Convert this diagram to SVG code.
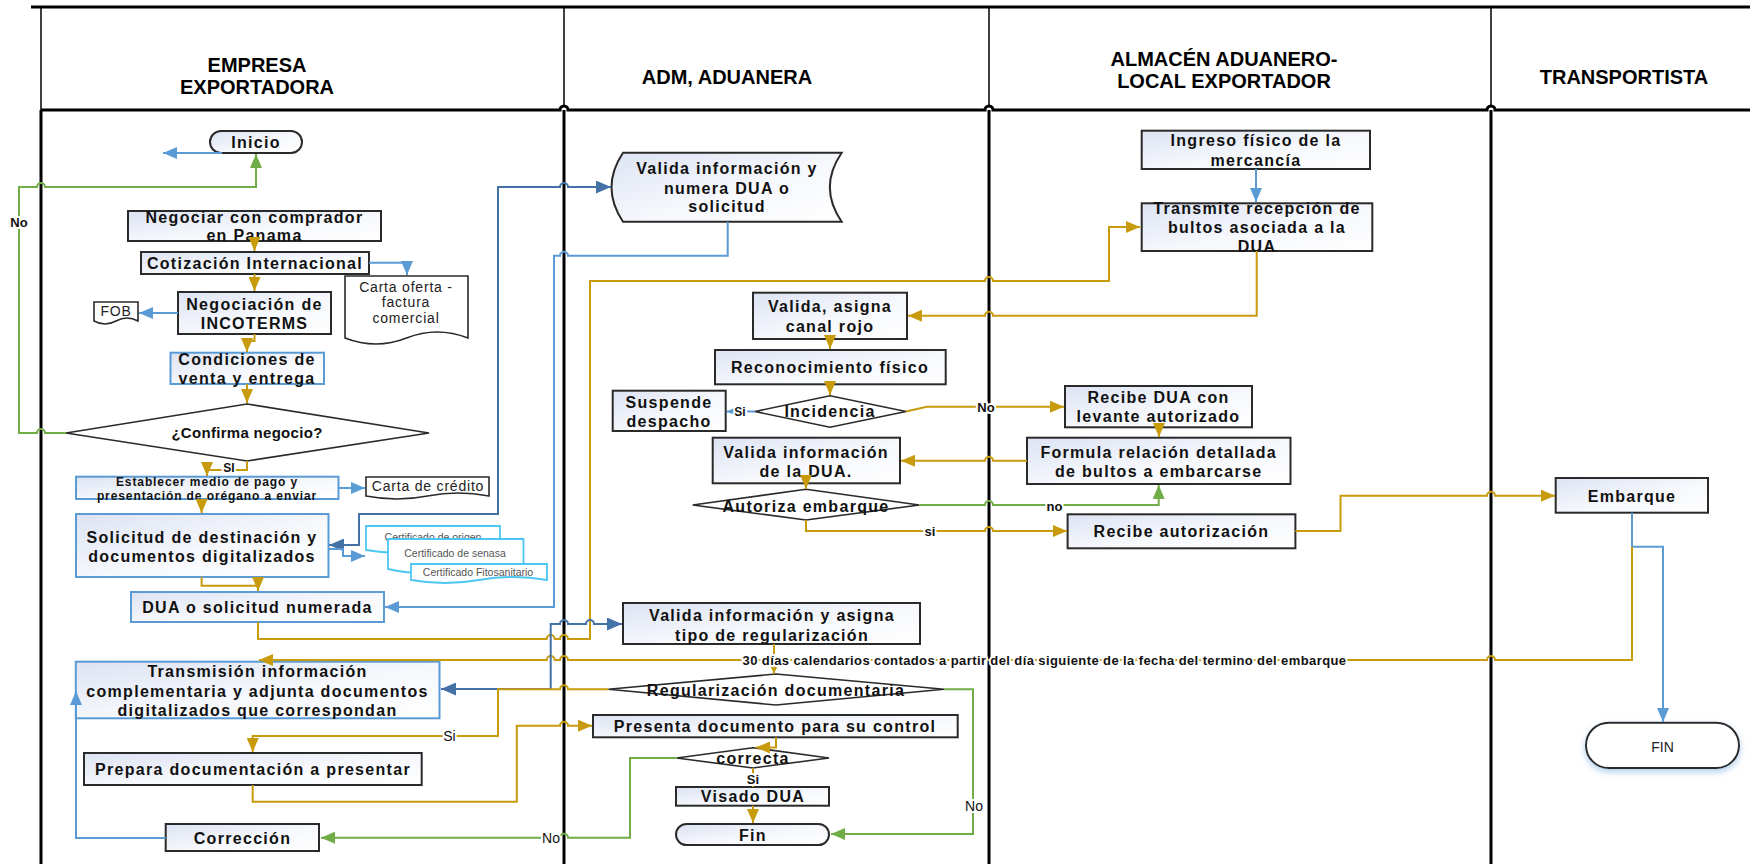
<svg xmlns="http://www.w3.org/2000/svg" width="1750" height="864" viewBox="0 0 1750 864">
<style>
.hd{font-family:"Liberation Sans",Arial,sans-serif;font-weight:bold;font-size:20px;fill:#000;text-anchor:middle}
.t{font-family:"Liberation Sans",Arial,sans-serif;font-weight:bold;font-size:16px;letter-spacing:1.3px;fill:#111;text-anchor:middle}
.ts{font-family:"Liberation Sans",Arial,sans-serif;font-weight:bold;font-size:12px;letter-spacing:0.9px;fill:#111;text-anchor:middle}
.td{font-family:"Liberation Sans",Arial,sans-serif;font-size:14px;letter-spacing:0.8px;fill:#222;text-anchor:middle}
.tc{font-family:"Liberation Sans",Arial,sans-serif;font-size:10.5px;fill:#555;text-anchor:middle}
.bk{fill:url(#gf);stroke:#2a2a2a;stroke-width:2}
.bl{fill:url(#gf);stroke:#5b9bd5;stroke-width:2}
.dm{fill:#fff;stroke:#2a2a2a;stroke-width:1.6}
.doc{fill:#fff;stroke:#2a2a2a;stroke-width:1.6}
.cert{fill:#fff;stroke:#4cc6f2;stroke-width:1.8}
.c{fill:none;stroke-width:2;stroke-linejoin:miter}
.g{stroke:#c89b0c}
.b{stroke:#5b9bd5}
.d{stroke:#4471a6}
.v{stroke:#70ad47}
.lb{font-family:"Liberation Sans",Arial,sans-serif;font-weight:bold;font-size:13px;fill:#111;text-anchor:middle;paint-order:stroke;stroke:#fff;stroke-width:4px;stroke-linejoin:round}
.lr{font-family:"Liberation Sans",Arial,sans-serif;font-size:14px;fill:#111;text-anchor:middle;paint-order:stroke;stroke:#fff;stroke-width:4px;stroke-linejoin:round}
</style>
<defs>
<linearGradient id="gf" x1="0" y1="0" x2="1" y2="1">
<stop offset="0" stop-color="#dde3f3"/>
<stop offset="0.55" stop-color="#f6f8fc"/>
<stop offset="1" stop-color="#ffffff"/>
</linearGradient>
<filter id="sh" x="-20%" y="-20%" width="140%" height="160%">
<feDropShadow dx="0" dy="3" stdDeviation="3" flood-color="#9dc3e6" flood-opacity="0.8"/>
</filter>
<marker id="aG" viewBox="0 0 10 10" refX="10" refY="5" markerWidth="14" markerHeight="12" markerUnits="userSpaceOnUse" orient="auto" preserveAspectRatio="none"><path d="M0,0 L10,5 L0,10 Z" fill="#c89b0c"/></marker>
<marker id="aGs" viewBox="0 0 10 10" refX="10" refY="5" markerWidth="7" markerHeight="7" markerUnits="userSpaceOnUse" orient="auto" preserveAspectRatio="none"><path d="M0,0 L10,5 L0,10 Z" fill="#c89b0c"/></marker>
<marker id="aB" viewBox="0 0 10 10" refX="10" refY="5" markerWidth="14" markerHeight="12" markerUnits="userSpaceOnUse" orient="auto" preserveAspectRatio="none"><path d="M0,0 L10,5 L0,10 Z" fill="#5b9bd5"/></marker>
<marker id="aBs" viewBox="0 0 10 10" refX="10" refY="5" markerWidth="7" markerHeight="7" markerUnits="userSpaceOnUse" orient="auto" preserveAspectRatio="none"><path d="M0,0 L10,5 L0,10 Z" fill="#5b9bd5"/></marker>
<marker id="aD" viewBox="0 0 10 10" refX="10" refY="5" markerWidth="15" markerHeight="13" markerUnits="userSpaceOnUse" orient="auto-start-reverse" preserveAspectRatio="none"><path d="M0,0 L10,5 L0,10 Z" fill="#4471a6"/></marker>
<marker id="aV" viewBox="0 0 10 10" refX="10" refY="5" markerWidth="14" markerHeight="12" markerUnits="userSpaceOnUse" orient="auto" preserveAspectRatio="none"><path d="M0,0 L10,5 L0,10 Z" fill="#70ad47"/></marker>
</defs>
<rect width="1750" height="864" fill="#fff"/>

<g id="lanes" fill="none" stroke="#000">
<line x1="31" y1="7" x2="1750" y2="7" stroke-width="3"/>
<path d="M41,110 H560 A4 4 0 0 1 568,110 H985 A4 4 0 0 1 993,110 H1487 A4 4 0 0 1 1495,110 H1750" stroke-width="3"/>
<path d="M41,7 V110 M564,7 V106 M989,7 V106 M1491,7 V106" stroke-width="1.5"/>
<path d="M41,110 V864 M564,110 V864 M989,110 V864 M1491,110 V864" stroke-width="3"/>
</g>
<g id="headers">
<text class="hd" x="257" y="72">EMPRESA</text>
<text class="hd" x="257" y="94">EXPORTADORA</text>
<text class="hd" x="727" y="84">ADM, ADUANERA</text>
<text class="hd" x="1224" y="66">ALMACÉN ADUANERO-</text>
<text class="hd" x="1224" y="88">LOCAL EXPORTADOR</text>
<text class="hd" x="1624" y="84">TRANSPORTISTA</text>
</g>

<g id="n-inicio"><rect class="bk" x="210" y="131" width="92" height="22" rx="11"/><text class="t" x="256" y="147.6">Inicio</text></g>
<g id="n-negociar"><rect class="bk" x="128" y="211" width="253" height="30"/><text class="t" x="254.5" y="222.6">Negociar con comprador</text><text class="t" x="254.5" y="240.6">en Panama</text></g>
<g id="n-cotizacion"><rect class="bk" x="141" y="252" width="228" height="22"/><text class="t" x="255" y="268.6">Cotización Internacional</text></g>
<g id="n-carta-oferta"><path class="doc" d="M345,276 H468 V338 Q437,326 406.5,338 Q376,350 345,338 Z"/><text class="td" x="406" y="292">Carta oferta -</text><text class="td" x="406" y="307">factura</text><text class="td" x="406" y="323">comercial</text></g>
<g id="n-incoterms"><rect class="bk" x="178" y="292" width="153" height="42"/><text class="t" x="254.5" y="309.6">Negociación de</text><text class="t" x="254.5" y="328.6">INCOTERMS</text></g>
<g id="n-fob"><path class="doc" d="M94,302 H138 V321 Q127,315 116,321 Q105,327 94,321 Z"/><text class="td" x="116" y="316">FOB</text></g>
<g id="n-condiciones"><rect class="bl" x="170.5" y="352.7" width="153.5" height="31.3"/><text class="t" x="247" y="364.6">Condiciones de</text><text class="t" x="247" y="383.6">venta y entrega</text></g>
<g id="n-confirma"><polygon class="dm" points="66,433 247,404 429,433 247,461"/><text class="t" x="247" y="438.3" style="font-size:15px;letter-spacing:0.3px">¿Confirma negocio?</text></g>
<g id="n-establecer"><rect class="bl" x="76" y="476.7" width="262.5" height="22.3"/><text class="ts" x="207" y="486.3">Establecer medio de pago  y</text><text class="ts" x="207" y="499.8">presentación de orégano a enviar</text></g>
<g id="n-carta-credito"><path class="doc" d="M366,477 H489 V496 Q458,490 427.5,496 Q397,502 366,496 Z"/><text class="td" x="428" y="491">Carta de crédito</text></g>
<g id="n-solicitud"><rect class="bl" x="76" y="514" width="252.5" height="63"/><text class="t" x="202" y="542.6">Solicitud de destinación y</text><text class="t" x="202" y="561.6">documentos digitalizados</text></g>
<g id="n-certificados">
<path class="cert" d="M366,526 H500 V550 Q466.5,544 433,550 Q399.5,556 366,550 Z"/><text class="tc" x="433" y="541">Certificado de origen</text>
<path class="cert" d="M388,539 H523.5 V569 Q489.6,561 455.7,569 Q421.9,577 388,569 Z"/><text class="tc" x="455" y="557">Certificado de senasa</text>
<path class="cert" d="M411,564 H547 V580 Q513,574 479,580 Q445,586 411,580 Z"/><text class="tc" x="478" y="576">Certificado Fitosanitario</text>
</g>
<g id="n-dua"><rect class="bl" x="131" y="592" width="253" height="30"/><text class="t" x="257.5" y="612.6">DUA o solicitud numerada</text></g>
<g id="n-transmision"><rect class="bl" x="75.8" y="661.7" width="363.7" height="56.6"/><text class="t" x="257.5" y="676.6">Transmisión información</text><text class="t" x="257.5" y="696.6">complementaria y adjunta documentos</text><text class="t" x="257.5" y="715.6">digitalizados que correspondan</text></g>
<g id="n-prepara"><rect class="bk" x="84" y="753" width="337.7" height="32"/><text class="t" x="253" y="774.6">Prepara documentación a presentar</text></g>
<g id="n-correccion"><rect class="bk" x="165.7" y="824" width="153.3" height="27"/><text class="t" x="242.5" y="843.6">Corrección</text></g>

<g id="n-valida-numera"><path class="bk" d="M623,152.7 H841.7 Q818,187.2 841.7,221.7 H623 Q600,187.2 623,152.7 Z"/><text class="t" x="727" y="173.6">Valida información y</text><text class="t" x="727" y="193.6">numera DUA o</text><text class="t" x="727" y="212.3">solicitud</text></g>
<g id="n-valida-asigna"><rect class="bk" x="753" y="292.7" width="154" height="46.3"/><text class="t" x="830" y="312.3">Valida, asigna</text><text class="t" x="830" y="332.3">canal rojo</text></g>
<g id="n-reconocimiento"><rect class="bk" x="715" y="350" width="230.7" height="34.3"/><text class="t" x="830" y="372.6">Reconocimiento físico</text></g>
<g id="n-incidencia"><polygon class="dm" points="755,411.5 830,395.7 906,411.5 830,427.3"/><text class="t" x="830" y="417.1">Incidencia</text></g>
<g id="n-suspende"><rect class="bk" x="612.7" y="390.7" width="113" height="40.3"/><text class="t" x="669" y="407.6">Suspende</text><text class="t" x="669" y="427.3">despacho</text></g>
<g id="n-valida-dua"><rect class="bk" x="712.7" y="437.7" width="187.3" height="45.6"/><text class="t" x="806" y="457.9">Valida información</text><text class="t" x="806" y="476.6">de la DUA.</text></g>
<g id="n-autoriza"><polygon class="dm" points="692.7,505 806,489.3 919.3,505 806,520"/><text class="t" x="806" y="511.6">Autoriza embarque</text></g>
<g id="n-valida-tipo"><rect class="bk" x="623" y="603" width="297" height="41"/><text class="t" x="772" y="620.6">Valida información y asigna</text><text class="t" x="772" y="640.6">tipo de regularización</text></g>
<g id="n-regularizacion"><polygon class="dm" points="608.3,689.3 776,674 944,689.3 776,705"/><text class="t" x="776" y="695.6">Regularización documentaria</text></g>
<g id="n-presenta"><rect class="bk" x="593" y="715" width="364.7" height="22.3"/><text class="t" x="775" y="731.6">Presenta documento para su control</text></g>
<g id="n-correcta"><polygon class="dm" points="676.7,758 753,747.7 829,758 753,768"/><text class="t" x="753" y="763.6">correcta</text></g>
<g id="n-visado"><rect class="bk" x="676" y="787" width="153" height="18.7"/><text class="t" x="753" y="802.1">Visado DUA</text></g>
<g id="n-fin"><rect class="bk" x="676" y="824" width="153" height="21" rx="10.5"/><text class="t" x="753" y="841.1">Fin</text></g>

<g id="n-ingreso"><rect class="bk" x="1141.7" y="130.7" width="228.3" height="38.3"/><text class="t" x="1256" y="145.6">Ingreso físico de la</text><text class="t" x="1256" y="165.6">mercancía</text></g>
<g id="n-transmite"><rect class="bk" x="1141.7" y="203.3" width="230.6" height="47.7"/><text class="t" x="1257" y="213.9">Transmite recepción de</text><text class="t" x="1257" y="233.3">bultos asociada a la</text><text class="t" x="1257" y="252.3">DUA</text></g>
<g id="n-recibe-dua"><rect class="bk" x="1065" y="386" width="187" height="41.3"/><text class="t" x="1158.5" y="403.3">Recibe DUA con</text><text class="t" x="1158.5" y="422.3">levante autorizado</text></g>
<g id="n-formula"><rect class="bk" x="1027" y="437.7" width="263.5" height="46.3"/><text class="t" x="1158.7" y="457.6">Formula relación detallada</text><text class="t" x="1158.7" y="476.6">de bultos a embarcarse</text></g>
<g id="n-recibe-autorizacion"><rect class="bk" x="1067.6" y="514.3" width="227.8" height="34"/><text class="t" x="1181.5" y="536.6">Recibe autorización</text></g>

<g id="n-embarque"><rect class="bk" x="1555.7" y="478" width="152.3" height="34.7"/><text class="t" x="1632" y="501.6">Embarque</text></g>
<g id="n-fin-transporte"><rect x="1586" y="722.7" width="153" height="45.3" rx="22.6" fill="#fff" stroke="#2a2a2a" stroke-width="2" filter="url(#sh)"/><text class="td" x="1662.5" y="751.7" style="letter-spacing:0">FIN</text></g>

<g id="connectors">
<path class="c b" d="M222,153 H163" marker-end="url(#aB)"/>
<path class="c v" d="M66,433 H45 A4 4 0 0 0 37,433 H19 V187 H37 A4 4 0 0 1 45,187 H256 V154" marker-end="url(#aV)"/>
<path class="c g" d="M254.5,241 V251" marker-end="url(#aG)"/>
<path class="c b" d="M369,262.7 H407 V275" marker-end="url(#aB)"/>
<path class="c g" d="M254.5,274 V291" marker-end="url(#aG)"/>
<path class="c b" d="M178,313 H139" marker-end="url(#aB)"/>
<path class="c g" d="M254.5,334 V341 H247 V352" marker-end="url(#aG)"/>
<path class="c g" d="M247,384 V403" marker-end="url(#aG)"/>
<path class="c g" d="M247,461 V470 H207 V476" marker-end="url(#aG)"/>
<path class="c b" d="M338.5,488 H365" marker-end="url(#aB)"/>
<path class="c g" d="M201.6,499 V513" marker-end="url(#aG)"/>
<path class="c d" d="M329,545 H359 V514 H498 V187 H560 A4 4 0 0 1 568,187 H611" marker-start="url(#aD)" marker-end="url(#aD)"/>
<path class="c b" d="M329,549 H343 V556 H365" marker-end="url(#aB)"/>
<path class="c g" d="M201.6,577 V585.7 H258 V591" marker-end="url(#aG)"/>
<path class="c b" d="M727.7,221.7 V255.7 H568 A4 4 0 0 0 560,255.7 H554 V607 H385" marker-end="url(#aB)"/>
<path class="c g" d="M258,622 V639 H546.7 A4 4 0 0 1 554.7,639 H560 A4 4 0 0 1 568,639 H590 V281 H985 A4 4 0 0 1 993,281 H1109 V227 H1140" marker-end="url(#aG)"/>
<path class="c b" d="M1256,169 V202" marker-end="url(#aB)"/>
<path class="c g" d="M1256.7,251 V315.7 H993 A4 4 0 0 0 985,315.7 H908" marker-end="url(#aG)"/>
<path class="c g" d="M830,339 V349" marker-end="url(#aG)"/>
<path class="c g" d="M830,384.3 V395" marker-end="url(#aG)"/>
<path class="c b" d="M755,411.5 H727" marker-end="url(#aBs)"/>
<path class="c g" d="M906,411.5 L926.7,406.7 H1064" marker-end="url(#aG)"/>
<path class="c g" d="M1159,427.3 V437" marker-end="url(#aG)"/>
<path class="c g" d="M1027,460.7 H993 A4 4 0 0 0 985,460.7 H901" marker-end="url(#aG)"/>
<path class="c g" d="M806,483.3 V489" marker-end="url(#aG)"/>
<path class="c v" d="M919.3,505 H985 A4 4 0 0 1 993,505 H1158.7 V485" marker-end="url(#aV)"/>
<path class="c g" d="M806,520 V531 H985 A4 4 0 0 1 993,531 H1067" marker-end="url(#aG)"/>
<path class="c g" d="M1295.4,531 H1340.5 V495.7 H1487 A4 4 0 0 1 1495,495.7 H1555" marker-end="url(#aG)"/>
<path class="c b" d="M1632,512.7 V546.7 H1663 V722" marker-end="url(#aB)"/>
<path class="c g" d="M1632,546.7 V660 H1495 A4 4 0 0 0 1487,660 H568 A4 4 0 0 0 560,660 H554.7 A4 4 0 0 0 546.7,660 H259" marker-end="url(#aG)"/>
<path class="c g" d="M774,644 V673.5" marker-end="url(#aGs)"/>
<path class="c d" d="M441,689 H550.7 V624 H560 A4 4 0 0 1 568,624 H586 A4 4 0 0 1 594,624 H622" marker-start="url(#aD)" marker-end="url(#aD)"/>
<path class="c g" d="M608.3,689.3 H568 A4 4 0 0 0 560,689.3 H498 V736 H252.7 V752" marker-end="url(#aG)"/>
<path class="c g" d="M252.7,785 V801.7 H516.8 V725.7 H560 A4 4 0 0 1 568,725.7 H592" marker-end="url(#aG)"/>
<path class="c g" d="M776,737.3 V747.5 H756" marker-end="url(#aG)"/>
<path class="c g" d="M753,768 V787"/>
<path class="c g" d="M753,805.7 V823" marker-end="url(#aG)"/>
<path class="c v" d="M944,689.3 H973 V834 H831" marker-end="url(#aV)"/>
<path class="c v" d="M676.7,758 H630 V837.7 H568 A4 4 0 0 0 560,837.7 H321" marker-end="url(#aV)"/>
<path class="c b" d="M165.7,838 H76 V691" marker-end="url(#aB)"/>
</g>
<g id="connector-labels">
<text class="lb" x="19" y="226.5">No</text>
<text class="lb" x="229" y="472" style="font-size:12px">SI</text>
<text class="lb" x="740" y="415.5" style="font-size:12px">Si</text>
<text class="lb" x="986" y="411.5">No</text>
<text class="lb" x="1054.5" y="510.5">no</text>
<text class="lb" x="930" y="535.5">si</text>
<text class="lb" x="1044.5" y="665" style="letter-spacing:0.4px">30 días calendarios contados a partir del día siguiente de la fecha del termino del embarque</text>
<text class="lr" x="449.5" y="741">Si</text>
<text class="lb" x="753" y="783.5">Si</text>
<text class="lr" x="974" y="811">No</text>
<text class="lr" x="551" y="843">No</text>
</g>
</svg>
